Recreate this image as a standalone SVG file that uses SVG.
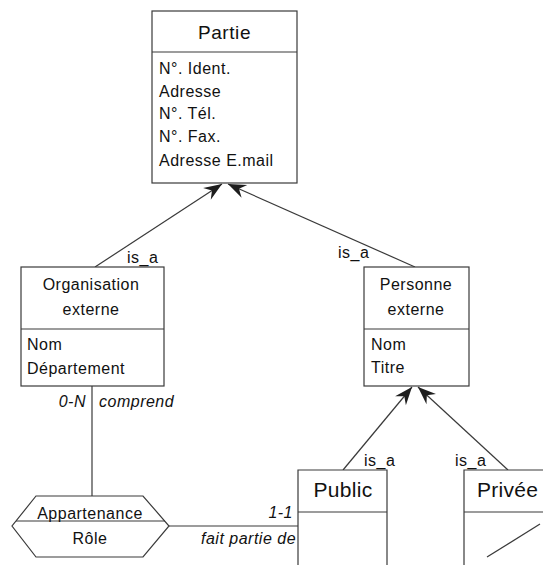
<svg xmlns="http://www.w3.org/2000/svg" width="543" height="565" viewBox="0 0 543 565">
<style>
.box{fill:#fff;stroke:#3a3a3a;stroke-width:1.2}
.ln{fill:none;stroke:#3a3a3a;stroke-width:1.2}
text{font-family:"Liberation Sans",Arial,sans-serif;fill:#111;font-size:16px;letter-spacing:0.5px}
.t{font-size:19px;letter-spacing:0.6px}
.b{font-size:21px;letter-spacing:0.3px}
.it{font-style:italic}
.m{text-anchor:middle}
.e{text-anchor:end}
</style>
<defs>
<marker id="ah" markerUnits="userSpaceOnUse" markerWidth="22" markerHeight="18" viewBox="-20 -9 22 18" refX="0" refY="0" orient="auto">
<path d="M0,0 L-18,-7 L-12,0 L-18,7 Z" fill="#1e1e1e"/>
</marker>
</defs>
<rect width="543" height="565" fill="#fff"/>
<g id="connectors">
<line class="ln" x1="95" y1="267" x2="222" y2="184" marker-end="url(#ah)"/>
<line class="ln" x1="415" y1="267" x2="228" y2="184" marker-end="url(#ah)"/>
<line class="ln" x1="343" y1="470" x2="412" y2="387" marker-end="url(#ah)"/>
<line class="ln" x1="508" y1="470" x2="418" y2="387" marker-end="url(#ah)"/>
<line class="ln" x1="92" y1="386" x2="92" y2="496"/>
<line class="ln" x1="169" y1="526" x2="298" y2="526"/>
<text x="127" y="263">is_a</text>
<text x="338" y="258">is_a</text>
<text x="364" y="466">is_a</text>
<text x="455" y="466">is_a</text>
<text class="it e" x="86" y="407">0-N</text>
<text class="it" x="99" y="407">comprend</text>
<text class="it e" x="293" y="518">1-1</text>
<text class="it" x="201" y="544">fait partie de</text>
</g>
<g id="partie">
<rect class="box" x="152" y="11" width="145" height="172"/>
<line class="ln" x1="152" y1="52" x2="297" y2="52"/>
<text class="t m" x="224.5" y="39">Partie</text>
<text x="159" y="74">N°. Ident.</text>
<text x="159" y="97">Adresse</text>
<text x="159" y="119">N°. Tél.</text>
<text x="159" y="142">N°. Fax.</text>
<text x="159" y="166">Adresse E.mail</text>
</g>
<g id="organisation">
<rect class="box" x="21" y="267" width="143" height="119"/>
<line class="ln" x1="21" y1="329" x2="164" y2="329"/>
<text class="m" x="91" y="290">Organisation</text>
<text class="m" x="91" y="315">externe</text>
<text x="27" y="350">Nom</text>
<text x="27" y="374">Département</text>
</g>
<g id="personne">
<rect class="box" x="364" y="267" width="105" height="119"/>
<line class="ln" x1="364" y1="329" x2="469" y2="329"/>
<text class="m" x="416" y="290">Personne</text>
<text class="m" x="416" y="315">externe</text>
<text x="371" y="350">Nom</text>
<text x="371" y="373">Titre</text>
</g>
<g id="appartenance">
<polygon class="box" points="36,496 143,496 169,526 143,557 36,557 12,526"/>
<line class="ln" x1="16" y1="521" x2="165" y2="521"/>
<text class="m" x="90" y="519">Appartenance</text>
<text class="m" x="90" y="544">Rôle</text>
</g>
<g id="public">
<path class="box" d="M298,570 V470 H387 V570"/>
<line class="ln" x1="298" y1="512" x2="387" y2="512"/>
<text class="b m" x="343" y="497">Public</text>
</g>
<g id="privee">
<path class="box" d="M464,570 V470 H550"/>
<line class="ln" x1="464" y1="512" x2="550" y2="512"/>
<text class="b" x="477" y="497">Privée</text>
<line class="ln" x1="487" y1="557" x2="540" y2="524"/>
</g>
</svg>
